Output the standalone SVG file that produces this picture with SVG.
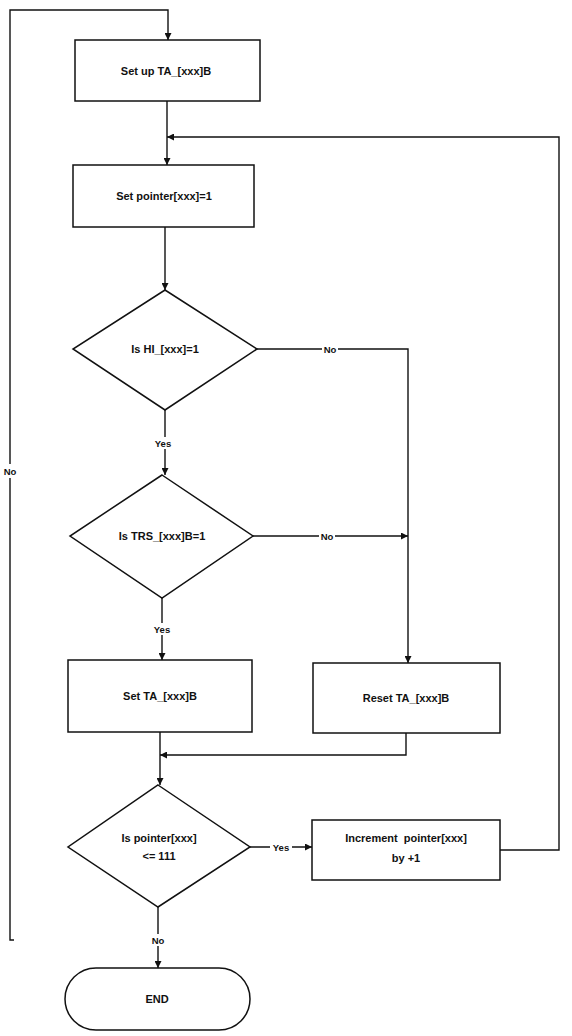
<svg xmlns="http://www.w3.org/2000/svg" width="572" height="1036" viewBox="0 0 572 1036">
<style>
.shape{fill:#fff;stroke:#111;stroke-width:1.5}
.line{fill:none;stroke:#111;stroke-width:1.4}
.t{font-family:"Liberation Sans",Arial,sans-serif;font-size:11px;font-weight:bold;fill:#111;text-anchor:middle;dominant-baseline:central;white-space:pre}
.lbl{font-family:"Liberation Sans",Arial,sans-serif;font-size:9.5px;font-weight:bold;fill:#111;text-anchor:middle;dominant-baseline:central}
.bg{fill:#fff}
</style>
<defs>
<marker id="ah" viewBox="0 0 10 10" refX="10" refY="5" markerWidth="7" markerHeight="7" orient="auto" markerUnits="userSpaceOnUse">
<path d="M0,0 L10,5 L0,10 z" fill="#111"/>
</marker>
</defs>
<rect width="572" height="1036" fill="#fff"/>
<g id="connectors">
<path class="line" d="M14 940 H10 V10 H168 V40" marker-end="url(#ah)"/>
<path class="line" d="M167 101 V165" marker-end="url(#ah)"/>
<path class="line" d="M500 850 H559 V137 H167" marker-end="url(#ah)"/>
<path class="line" d="M165 227 V290" marker-end="url(#ah)"/>
<path class="line" d="M165 410 V475" marker-end="url(#ah)"/>
<path class="line" d="M257 349 H408 V663" marker-end="url(#ah)"/>
<path class="line" d="M253 536 H408" marker-end="url(#ah)"/>
<path class="line" d="M162 598 V660" marker-end="url(#ah)"/>
<path class="line" d="M160 732 V785" marker-end="url(#ah)"/>
<path class="line" d="M406 733 V755 H160" marker-end="url(#ah)"/>
<path class="line" d="M250 847 H312" marker-end="url(#ah)"/>
<path class="line" d="M158 907 V968" marker-end="url(#ah)"/>
<rect class="bg" x="3" y="464" width="14" height="14"/>
<text class="lbl" x="10" y="471">No</text>
<rect class="bg" x="322" y="343" width="16" height="12"/>
<text class="lbl" x="330" y="349">No</text>
<rect class="bg" x="319" y="530" width="16" height="12"/>
<text class="lbl" x="327" y="536">No</text>
<rect class="bg" x="153" y="437" width="20" height="12"/>
<text class="lbl" x="163" y="443">Yes</text>
<rect class="bg" x="152" y="623" width="20" height="12"/>
<text class="lbl" x="162" y="629">Yes</text>
<rect class="bg" x="270" y="841" width="22" height="12"/>
<text class="lbl" x="281" y="847">Yes</text>
<rect class="bg" x="149" y="934" width="18" height="12"/>
<text class="lbl" x="158" y="940">No</text>
</g>
<g id="setup">
<rect class="shape" x="75" y="40" width="185" height="61"/>
<text class="t" x="166" y="71">Set up TA_[xxx]B</text>
</g>
<g id="setpointer">
<rect class="shape" x="73" y="165" width="181" height="62"/>
<text class="t" x="164" y="196">Set pointer[xxx]=1</text>
</g>
<g id="isHI">
<polygon class="shape" points="165,290 257,349 165,410 73,349"/>
<text class="t" x="165" y="349">Is HI_[xxx]=1</text>
</g>
<g id="isTRS">
<polygon class="shape" points="162,475 253,536 162,598 70,536"/>
<text class="t" x="162" y="536">Is TRS_[xxx]B=1</text>
</g>
<g id="setTA">
<rect class="shape" x="68" y="660" width="184" height="72"/>
<text class="t" x="160" y="696">Set TA_[xxx]B</text>
</g>
<g id="resetTA">
<rect class="shape" x="313" y="663" width="187" height="70"/>
<text class="t" x="406" y="698">Reset TA_[xxx]B</text>
</g>
<g id="isPointer">
<polygon class="shape" points="158,785 250,847 158,907 68,847"/>
<text class="t" x="159" y="838">Is pointer[xxx]</text>
<text class="t" x="159" y="856">&lt;= 111</text>
</g>
<g id="increment">
<rect class="shape" x="312" y="820" width="188" height="60"/>
<text class="t" x="406" y="838" xml:space="preserve">Increment  pointer[xxx]</text>
<text class="t" x="406" y="858">by +1</text>
</g>
<g id="end">
<rect class="shape" x="65" y="968" width="185" height="62" rx="31" ry="31"/>
<text class="t" x="157" y="999">END</text>
</g>
</svg>
